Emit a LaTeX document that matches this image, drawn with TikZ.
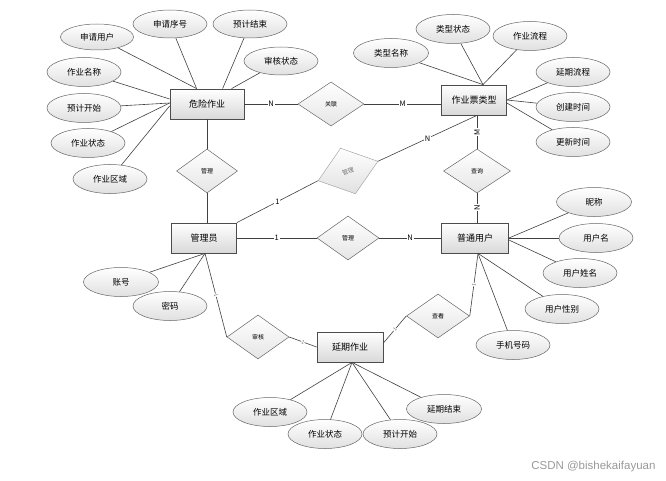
\documentclass[tikz,border=0pt]{standalone}
\usepackage{fontspec}
\setmainfont{Noto Sans CJK SC}
\newfontfamily\wmfont{Liberation Sans}
\usetikzlibrary{shapes.geometric,calc}
\tikzset{
 ent/.style={draw=black!70, line width=0.8pt, top color=white, bottom color=black!15, minimum width=65pt, minimum height=30pt, inner sep=0pt, font=\fontsize{9}{10}\selectfont},
 attr/.style={ellipse, draw=black!60, line width=0.5pt, top color=white, bottom color=black!12, minimum width=74pt, minimum height=29pt, inner sep=0pt, font=\fontsize{8.5}{10}\selectfont},
 rel/.style={diamond, draw=black!60, line width=0.5pt, top color=white, bottom color=black!10, minimum width=62pt, minimum height=44pt, inner sep=0pt, font=\fontsize{6}{7}\selectfont},
 conn/.style={draw=black!75, line width=0.6pt},
 card/.style={fill=white, inner sep=0.8pt, font=\fontsize{7.5}{8}\selectfont},
 tinylab/.style={fill=white, inner sep=0.3pt, font=\fontsize{5}{5}\selectfont, text=black!60, sloped},
}
\begin{document}
\begin{tikzpicture}[x=1pt,y=-1pt]
\useasboundingbox (0,0) rectangle (666,481);
% entities
\node[ent, minimum width=74pt] (dw) at (207,104) {危险作业};
\node[ent] (zy) at (474,100) {作业票类型};
\node[ent] (gly) at (204,238) {管理员};
\node[ent, minimum width=67pt] (pt) at (475,238) {普通用户};
\node[ent, minimum width=66pt] (yq) at (350,347) {延期作业};
% relationships
\node[rel, minimum width=66pt] (gl) at (331,104) {关联};
\node[rel, minimum width=61pt] (d1) at (207,171) {管理};
\node[rel, minimum width=63pt, minimum height=48pt, rotate=18, draw=black!35, top color=white, bottom color=black!12, text=black!55] (d2) at (348,171) {管理};
\node[rel, minimum width=67pt] (cx) at (477,171) {查询};
\node[rel] (d3) at (348,238) {管理};
\node[rel] (sh) at (258,337) {审核};
\node[rel, minimum width=63pt] (ck) at (438,316) {查看};
% attributes of 危险作业
\node[attr, minimum width=73pt, minimum height=26pt] (a1) at (97,37) {申请用户};
\node[attr, minimum height=28pt] (a2) at (170,24) {申请序号};
\node[attr, minimum height=28pt] (a3) at (250,24) {预计结束};
\node[attr, minimum height=28pt] (a4) at (281,61) {审核状态};
\node[attr] (a5) at (84,72) {作业名称};
\node[attr] (a6) at (84,108) {预计开始};
\node[attr] (a7) at (88,143) {作业状态};
\node[attr] (a8) at (110,179) {作业区域};
% attributes of 作业票类型
\node[attr, minimum width=75pt] (b1) at (391,53) {类型名称};
\node[attr] (b2) at (453,29) {类型状态};
\node[attr] (b3) at (530,36) {作业流程};
\node[attr] (b4) at (573,72) {延期流程};
\node[attr] (b5) at (573,107) {创建时间};
\node[attr] (b6) at (573,142) {更新时间};
% attributes of 普通用户
\node[attr, minimum width=75pt] (c1) at (594,202) {昵称};
\node[attr] (c2) at (596,238) {用户名};
\node[attr] (c3) at (580,273) {用户姓名};
\node[attr] (c4) at (562,309) {用户性别};
\node[attr] (c5) at (513,345) {手机号码};
% attributes of 管理员
\node[attr, minimum width=75pt] (g1) at (121,282) {账号};
\node[attr] (g2) at (170,306) {密码};
% attributes of 延期作业
\node[attr] (y1) at (270,412) {作业区域};
\node[attr] (y2) at (325,434) {作业状态};
\node[attr] (y3) at (400,434) {预计开始};
\node[attr, minimum width=75pt] (y4) at (444,409) {延期结束};
% helper points
\coordinate (zys) at ([xshift=3pt]zy.south);
\coordinate (ptn) at ([xshift=2pt]pt.north);
\coordinate (pts) at ([xshift=3pt]pt.south);
\coordinate (glys) at ([xshift=1pt]gly.south);
\coordinate (yqs) at ([xshift=2pt]yq.south);
% attribute lines
\draw[conn] (a1) -- ([xshift=27pt]dw.north west);
\draw[conn] (a2) -- ([xshift=27pt]dw.north west);
\draw[conn] (a3) -- ([xshift=53pt]dw.north west);
\draw[conn] (a4) -- ([xshift=62pt]dw.north west);
\draw[conn] (a5) -- ([yshift=5pt]dw.west);
\draw[conn] (a6) -- ([yshift=1pt]dw.west);
\draw[conn] (a7) -- ([yshift=1pt]dw.west);
\draw[conn] (a8) -- ([yshift=-2pt]dw.west);
\draw[conn] (b1) -- ([xshift=9pt]zy.north);
\draw[conn] (b2) -- ([xshift=9pt]zy.north);
\draw[conn] (b3) -- ([xshift=9pt]zy.north);
\draw[conn] (b4) -- (zy.east);
\draw[conn] (b5) -- (zy.east);
\draw[conn] (b6) -- ([yshift=-3pt]zy.east);
\draw[conn] (c1) -- (pt.east);
\draw[conn] (c2) -- (pt.east);
\draw[conn] (c3) -- ([yshift=-2pt]pt.east);
\draw[conn] (c4) -- (pts);
\draw[conn] (c5) -- (pts);
\draw[conn] (g1) -- (glys);
\draw[conn] (g2) -- (glys);
\draw[conn] (y1) -- (yqs);
\draw[conn] (y2) -- (yqs);
\draw[conn] (y3) -- (yqs);
\draw[conn] (y4) -- (yqs);
% relationship lines
\draw[conn] (dw.east) -- node[card] {N} (gl.west);
\draw[conn] (gl.east) -- node[card] {M} (zy.west |- gl.east);
\draw[conn] (dw.south) -- (d1.north);
\draw[conn] (d1.south) -- (d1.south |- gly.north);
\draw[conn] (gly.north east) -- node[card] {1} (d2.west);
\draw[conn] (d2.east) -- node[card] {N} (zys);
\draw[conn] (zys) -- node[card, rotate=90] {M} (cx.north);
\draw[conn] (cx.south) -- node[card, rotate=90] {N} (ptn);
\draw[conn] (gly.east) -- node[card] {1} (d3.west);
\draw[conn] (d3.east) -- node[card] {N} (pt.west);
\draw[conn] (glys) -- node[tinylab] {1} (sh.west);
\draw[conn] (sh.east) -- node[tinylab] {1} (yq.west);
\draw[conn] ([yshift=4pt]yq.east) -- node[tinylab] {1} (ck.west);
\draw[conn] (ck.east) -- node[tinylab] {1} (pts);
% watermark
\node[anchor=east, text=black!40, font=\wmfont\fontsize{11.5}{13}\selectfont] (wm) at (659,467) {CSDN @bishekaifayuan};
\end{tikzpicture}
\end{document}
